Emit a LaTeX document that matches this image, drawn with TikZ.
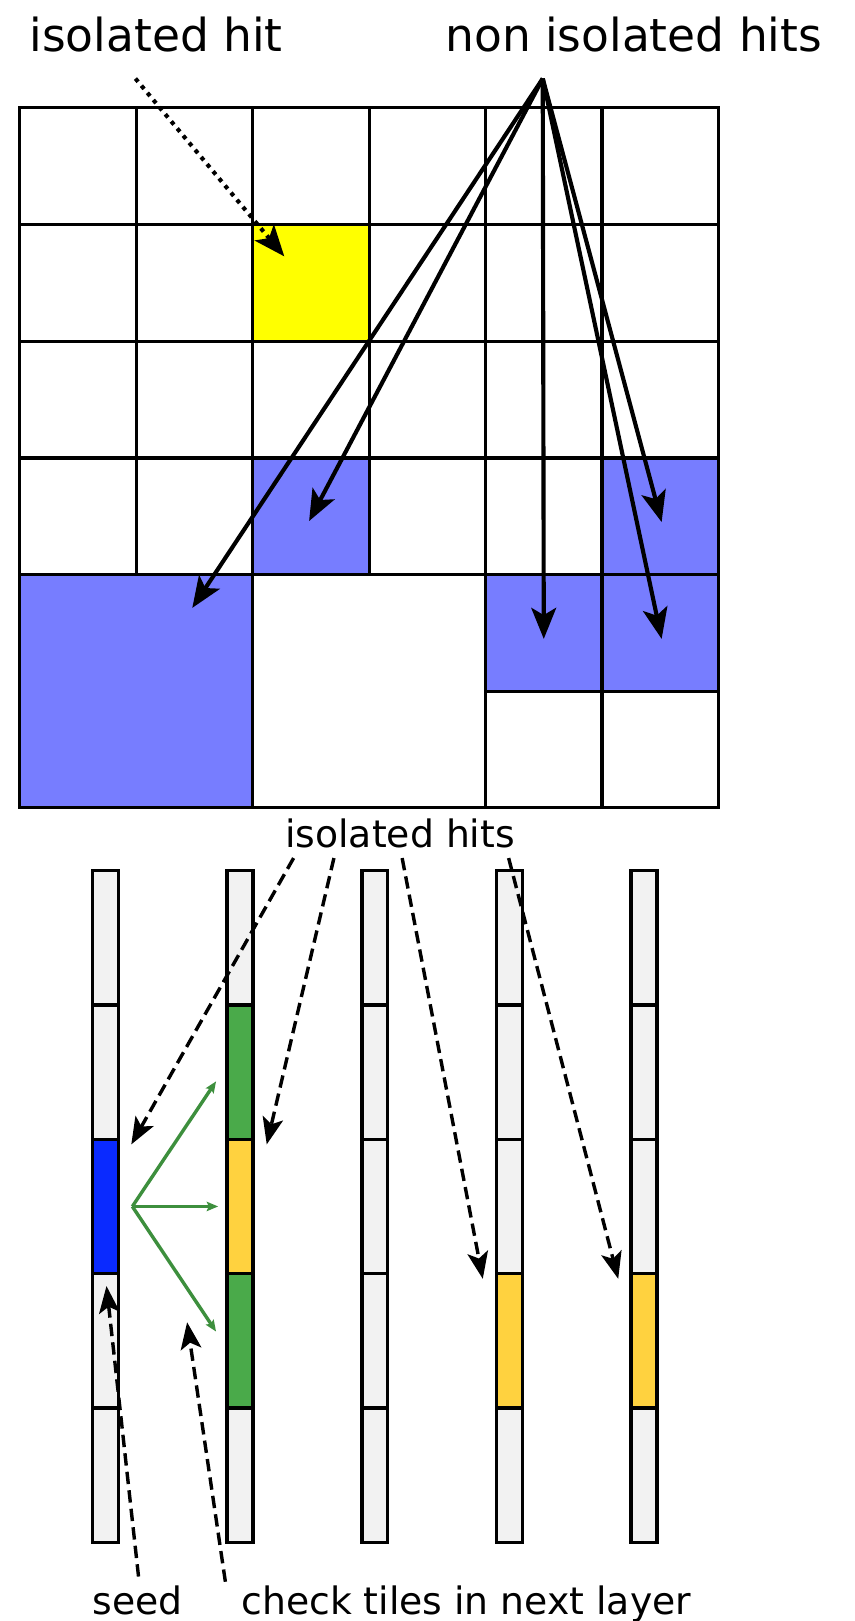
\documentclass[tikz,border=0pt]{standalone}
\usepackage{fontspec}
\setmainfont{DejaVu Sans}
\usetikzlibrary{arrows.meta}
\definecolor{gridblue}{RGB}{119,125,255}
\definecolor{hityellow}{RGB}{255,255,0}
\definecolor{seedblue}{RGB}{10,42,255}
\definecolor{tilegreen}{RGB}{74,170,74}
\definecolor{tilegold}{RGB}{255,210,63}
\definecolor{arrowgreen}{RGB}{61,143,61}
\definecolor{tilegray}{RGB}{242,242,242}
\tikzset{
  gridline/.style={line width=3pt, black},
  bigarrow/.style={line width=4pt, -{Stealth[length=30pt,width=24pt,inset=7pt]}},
  dotarrow/.style={line width=4pt, dash pattern=on 4pt off 5pt, -{Stealth[length=30pt,width=24pt,inset=7pt]}},
  dasharrow/.style={line width=3.3pt, dash pattern=on 12pt off 6pt, -{Stealth[length=26pt,width=20pt,inset=6pt]}},
  greenarrow/.style={line width=3.3pt, arrowgreen, -{Stealth[length=11pt,width=9pt,inset=2pt]}},
  tilebox/.style={draw=black, line width=3.3pt, minimum width=25pt, minimum height=130pt, inner sep=0pt, outer sep=0pt, anchor=north},
  bigtext/.style={font=\fontsize{44}{52}\selectfont, inner sep=0pt, anchor=base},
  midtext/.style={font=\fontsize{36.5}{44}\selectfont, inner sep=0pt, anchor=base},
}
\begin{document}
\begin{tikzpicture}[x=1pt,y=-1pt]
\useasboundingbox (0,0) rectangle (827,1568);
\fill[white] (0,0) rectangle (827,1568);
% ---------- grid fills ----------
\fill[hityellow] (244.3,217) rectangle (357,330);
\fill[gridblue] (244.3,443) rectangle (357,556);
\fill[gridblue] (582.3,443) rectangle (695,556);
\fill[gridblue] (19,556) rectangle (244.3,781);
\fill[gridblue] (469.7,556) rectangle (695,669);
% ---------- grid lines ----------
\draw[gridline] (19,104) rectangle (695,781);
\foreach \y in {217,330,443,556} \draw[gridline] (19,\y) -- (695,\y);
\draw[gridline] (469.7,669) -- (695,669);
\foreach \x in {131.7,357} \draw[gridline] (\x,104) -- (\x,556);
\foreach \x in {244.3,469.7,582.3} \draw[gridline] (\x,104) -- (\x,781);
% ---------- labels ----------
\node[bigtext] (isohit) at (151,50) {isolated hit};
\node[bigtext] (nonisohits) at (613,50) {non isolated hits};
\node[midtext] (isohits) at (387,820) {isolated hits};
\node[midtext] (seed) at (133,1562) {seed};
\node[midtext] (check) at (451,1562) {check tiles in next layer};
% ---------- arrow end points ----------
\coordinate (isoS) at (131,76);
\coordinate (yellowT) at (275,248);
\coordinate (nonS) at (525,76);
\coordinate (t1) at (186,588);
\coordinate (t2) at (299,504);
\coordinate (t3) at (526,618);
\coordinate (t4) at (640,505);
\coordinate (t5) at (640,618);
\draw[dotarrow] (isoS) -- (yellowT);
\foreach \t in {t1,t2,t3,t4,t5} \draw[bigarrow] (nonS) -- (\t);
% ---------- strips ----------
\foreach \col/\a/\b/\c/\d/\e in {
    0/tilegray/tilegray/seedblue/tilegray/tilegray,
    1/tilegray/tilegreen/tilegold/tilegreen/tilegray,
    2/tilegray/tilegray/tilegray/tilegray/tilegray,
    3/tilegray/tilegray/tilegray/tilegold/tilegray,
    4/tilegray/tilegray/tilegray/tilegold/tilegray}{
  \pgfmathsetmacro{\xc}{102+130.25*\col}
  \foreach \clr [count=\j from 0] in {\a,\b,\c,\d,\e}{
    \pgfmathsetmacro{\yt}{842+130*\j}
    \node[tilebox, fill=\clr] (tile-\col-\j) at (\xc,\yt) {};
  }
}
% ---------- green arrows ----------
\coordinate (gS) at (128,1167);
\coordinate (g1) at (209,1046);
\coordinate (g2) at (211,1167);
\coordinate (g3) at (209,1288);
\foreach \g in {g1,g2,g3} \draw[greenarrow] (gS) -- (\g);
% ---------- dashed arrows ----------
\coordinate (hS1) at (284,830);
\coordinate (hS2) at (323,830);
\coordinate (hS3) at (389,830);
\coordinate (hS4) at (492,830);
\coordinate (h1) at (127,1107);
\coordinate (h2) at (258,1107);
\coordinate (h3) at (467,1237);
\coordinate (h4) at (598,1237);
\draw[dasharrow] (hS1) -- (h1);
\draw[dasharrow] (hS2) -- (h2);
\draw[dasharrow] (hS3) -- (h3);
\draw[dasharrow] (hS4) -- (h4);
\coordinate (sS) at (134,1525);
\coordinate (sT) at (103,1244);
\coordinate (cS) at (218,1530);
\coordinate (cT) at (181,1279);
\draw[dasharrow] (sS) -- (sT);
\draw[dasharrow] (cS) -- (cT);
\end{tikzpicture}
\end{document}
